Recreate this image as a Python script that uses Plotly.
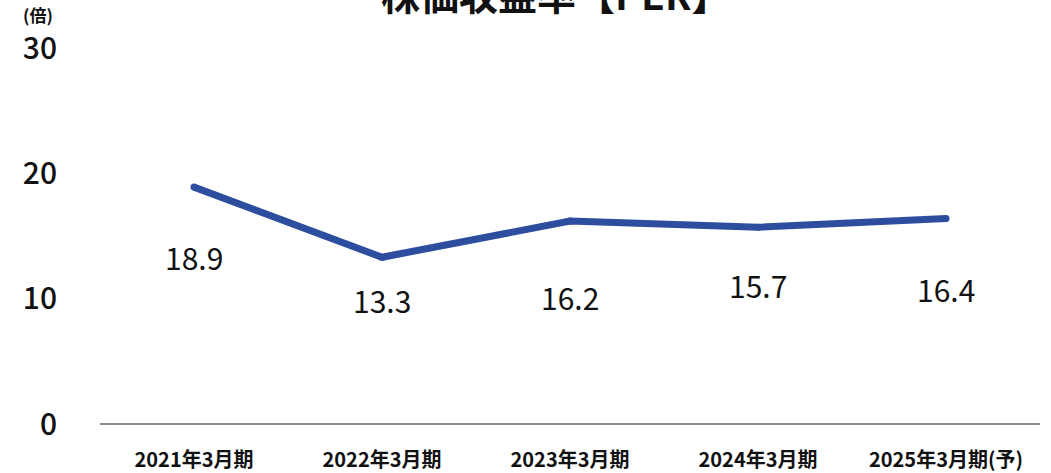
import plotly.graph_objects as go

categories = ["2021年3月期", "2022年3月期", "2023年3月期", "2024年3月期", "2025年3月期(予)"]
per_values = [18.9, 13.3, 16.2, 15.7, 16.4]
value_labels = ["18.9", "13.3", "16.2", "15.7", "16.4"]
y_ticks = [0, 10, 20, 30]

# label vertical offsets in px (style)
label_shift = [-70, -43, -76, -58, -71]

FONT = "Noto Sans CJK JP"
LINE_COLOR = "#2D4D9E"

fig = go.Figure()
fig.add_trace(go.Scatter(
    x=categories, y=per_values, mode="lines+markers",
    line=dict(color=LINE_COLOR, width=7),
    marker=dict(color=LINE_COLOR, size=7, line=dict(width=0)),
    hoverinfo="skip", showlegend=False, cliponaxis=False,
))

for c, v, t, s in zip(categories, per_values, value_labels, label_shift):
    fig.add_annotation(x=c, y=v, text=t, showarrow=False, yshift=s,
                       font=dict(family=FONT, size=30, color="#111111"))

fig.add_annotation(xref="paper", yref="paper", x=0.485, y=1.145, text="<b>株価収益率【PER】</b>",
                   showarrow=False, xanchor="center", yanchor="middle",
                   font=dict(family=FONT, size=39, color="#111111"))
fig.add_annotation(xref="paper", yref="paper", x=-0.066, y=1.09, text="<b>(倍)</b>",
                   showarrow=False, xanchor="center", yanchor="middle",
                   font=dict(family=FONT, size=17, color="#111111"))

fig.update_layout(
    width=1051, height=473,
    margin=dict(l=100, r=11, t=48, b=49, autoexpand=False),
    paper_bgcolor="white", plot_bgcolor="white",
    font=dict(family=FONT, color="#111111"),
    xaxis=dict(
        type="category", range=[-0.5, 4.5], showgrid=False, zeroline=False,
        showline=False, ticks="", automargin=False,
        tickfont=dict(family=FONT, size=20, color="#111111", weight="bold"),
        ticklabelstandoff=22,
    ),
    yaxis=dict(
        range=[0, 30], tickvals=y_ticks, showgrid=False, automargin=False,
        zeroline=True, zerolinecolor="#8C8C8C", zerolinewidth=2,
        showline=False, ticks="",
        tickfont=dict(family=FONT, size=30, color="#111111", weight=500),
        ticklabelstandoff=42,
    ),
)

fig.write_html("out.html", config={"displayModeBar": False},
               post_script="document.body.style.margin='0';")
